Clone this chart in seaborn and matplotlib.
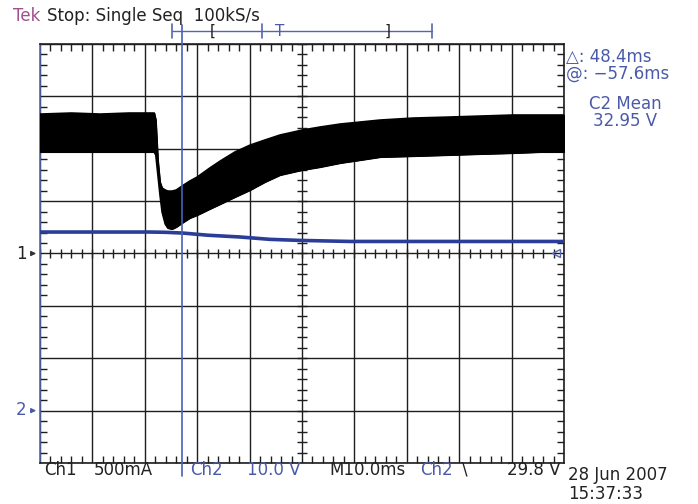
import numpy as np
import pandas as pd
import matplotlib
matplotlib.use("Agg")
import matplotlib.pyplot as plt
import seaborn as sns
from matplotlib.ticker import MultipleLocator

# Ch1 current envelope (A), time across the screen in ms (M 10.0 ms/div)
t_ch1 = [0, 6, 11.5, 17, 21.8, 22.1, 22.5, 22.9, 23.3, 23.9, 24.4, 25.2, 26, 27.1,
         28.6, 30, 32.4, 34.4, 37.2, 40.1, 42.9, 45.8, 50, 53.4, 57.3, 61.1, 64.9,
         71.2, 77.7, 84, 90.3, 95.4, 100]
ch1_hi = [1.331, 1.341, 1.331, 1.341, 1.341, 1.274, 0.892, 0.682, 0.625, 0.606, 0.596,
          0.596, 0.606, 0.644, 0.692, 0.730, 0.816, 0.883, 0.969, 1.035, 1.083, 1.131,
          1.178, 1.207, 1.236, 1.255, 1.274, 1.293, 1.302, 1.312, 1.322, 1.322, 1.322]
ch1_lo = [0.969, 0.969, 0.969, 0.969, 0.969, 0.940, 0.749, 0.558, 0.396, 0.281, 0.243,
          0.234, 0.253, 0.291, 0.339, 0.367, 0.425, 0.472, 0.539, 0.606, 0.682, 0.749,
          0.797, 0.825, 0.864, 0.892, 0.921, 0.930, 0.940, 0.950, 0.959, 0.969, 0.969]
# Ch2 voltage (V)
t_ch2 = [0, 11.5, 21, 23.9, 27.3, 31.9, 38.2, 43.9, 49.6, 59.2, 68.7, 80.2, 100]
ch2_v = [34.1, 34.1, 34.1, 34.05, 33.9, 33.5, 33.15, 32.7, 32.5, 32.3, 32.3, 32.3, 32.3]

CH1_SCALE = 0.5    # A/div
CH2_SCALE = 10.0   # V/div
CH2_POS = -3.0     # div
cursor_t = 27.1    # ms

# ---------------- figure ----------------
sns.set_style("white")
plt.rcParams["font.family"] = ["DejaVu Sans"]
W, H = 698, 504
fig = plt.figure(figsize=(W / 100, H / 100), dpi=100)
L, R, T, B = 40, 564, 44, 463
ax = fig.add_axes([L / W, 1 - B / H, (R - L) / W, (B - T) / H])
ax.set_xlim(0, 100)
ax.set_ylim(-4, 4)

def px(x):
    return (x - L) / (R - L) * 100

def py(y):
    return 4 - (y - T) / (B - T) * 8

GRID = "#1e1e1e"
BLUE_TXT = "#4a5aa8"
BLUE_TR = "#2b3d98"

ax.set_xticks(np.arange(0, 101, 10))
ax.set_yticks(np.arange(-4, 5, 1))
ax.set_xticklabels([])
ax.set_yticklabels([])
ax.grid(True, color=GRID, lw=1.0)
ax.xaxis.set_minor_locator(MultipleLocator(2))
ax.yaxis.set_minor_locator(MultipleLocator(0.2))
ax.tick_params(which="major", length=0)
ax.tick_params(which="minor", direction="in", length=5, width=1, color=GRID,
               top=True, right=True, bottom=True, left=True)
for s in ax.spines.values():
    s.set_color(GRID)
    s.set_linewidth(1.2)
ax.spines["left"].set_color("#5566aa")

# center cross ticks
ax.vlines(np.arange(0, 100.01, 2), -0.09, 0.09, color=GRID, lw=1)
ax.hlines(np.arange(-4, 4.01, 0.2), 49.1, 50.9, color=GRID, lw=1)

# Ch1 band
df1 = pd.DataFrame({"t": t_ch1,
                    "hi": np.array(ch1_hi) / CH1_SCALE,
                    "lo": np.array(ch1_lo) / CH1_SCALE})
ax.fill_between(df1["t"], df1["lo"], df1["hi"], color="black", lw=0.8, zorder=3)
sns.lineplot(data=df1, x="t", y="hi", color="black", lw=1.2, ax=ax, zorder=3)
sns.lineplot(data=df1, x="t", y="lo", color="black", lw=1.2, ax=ax, zorder=3)

# Ch2 trace
df2 = pd.DataFrame({"t": t_ch2, "div": np.array(ch2_v) / CH2_SCALE + CH2_POS})
sns.lineplot(data=df2, x="t", y="div", color=BLUE_TR, lw=2.6, ax=ax, zorder=4)
ax.set_xlabel("")
ax.set_ylabel("")

# cursor
ax.plot([cursor_t, cursor_t], [py(25), py(476)], color="#4a60b8", lw=1.2,
        clip_on=False, zorder=5)

# top record bar
ax.plot([px(172), px(432)], [py(31), py(31)], color="#5566b0", lw=1, clip_on=False)
for xx in (172, 432, 262):
    ax.plot([px(xx), px(xx)], [py(24), py(38)], color="#5566b0", lw=1.2, clip_on=False)

# reference markers
ax.annotate("", xy=(px(39), 0), xytext=(px(28), 0),
            arrowprops=dict(arrowstyle="-|>", lw=1, color="#333333", mutation_scale=7),
            annotation_clip=False)
ax.annotate("", xy=(px(39), CH2_POS), xytext=(px(28), CH2_POS),
            arrowprops=dict(arrowstyle="-|>", lw=1, color=BLUE_TXT, mutation_scale=7),
            annotation_clip=False)
ax.plot([px(556)], [0], marker="<", ms=6, mfc="none", mec="#5566b0", mew=1, clip_on=False)

def ftext(x, y, s, color="#222222", ha="left", size=12):
    fig.text(x / W, 1 - y / H, s, color=color, ha=ha, va="center", fontsize=size)

ftext(21, 254, "1", ha="center")
ftext(21, 410, "2", color=BLUE_TXT, ha="center")

ftext(13, 16, "Tek", color="#a0508e")
fig.text(47 / W, 1 - 16 / H, "Stop: Single Seq  100kS/s", color="#222222",
         ha="left", va="center", fontsize=12)
ftext(213, 31, "[", ha="center", size=11)
ftext(280, 31, "T", color=BLUE_TXT, ha="center", size=11)
ftext(388, 31, "]", ha="center", size=11)

ftext(566, 57, "△: 48.4ms", color=BLUE_TXT)
ftext(566, 74, "@: −57.6ms", color=BLUE_TXT)
ftext(625, 104, "C2 Mean", color=BLUE_TXT, ha="center")
ftext(625, 121, "32.95 V", color=BLUE_TXT, ha="center")

ftext(44, 470, "Ch1")
ftext(94, 470, "500mA")
ftext(190, 470, "Ch2", color=BLUE_TXT)
ftext(247, 470, "10.0 V", color=BLUE_TXT)
ftext(329, 470, "M10.0ms")
ftext(420, 470, "Ch2", color=BLUE_TXT)
ftext(462, 470, "\\")
ftext(507, 470, "29.8 V")
ftext(568, 475, "28 Jun 2007")
ftext(568, 494, "15:37:33")

fig.savefig("out.png", dpi=100)
